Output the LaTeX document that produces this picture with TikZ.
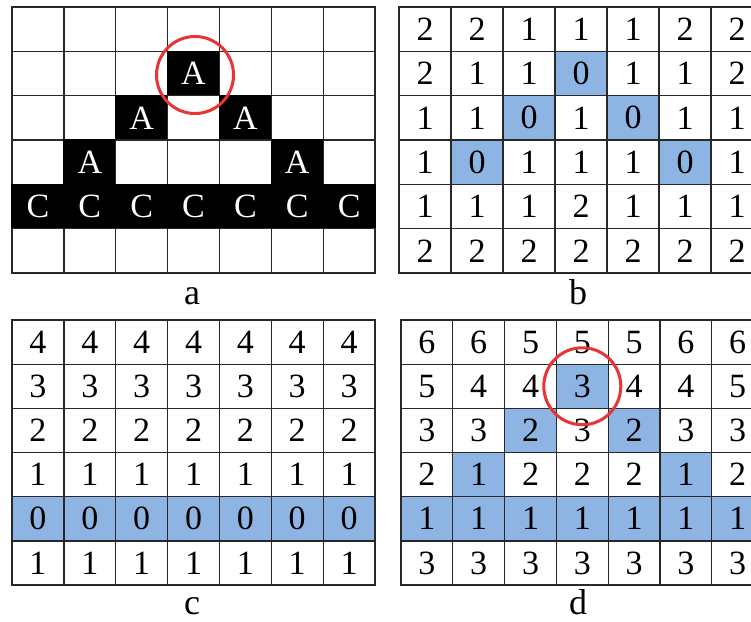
\documentclass[tikz,border=0pt]{standalone}
\usepackage{fontspec}
\setmainfont{Liberation Serif}
\definecolor{cw}{RGB}{255,255,255}
\definecolor{cb}{RGB}{141,180,226}
\definecolor{ck}{RGB}{0,0,0}
\definecolor{tw}{RGB}{0,0,0}
\definecolor{tb}{RGB}{0,0,0}
\definecolor{tk}{RGB}{255,255,255}
\definecolor{dw}{RGB}{40,40,40}
\definecolor{db}{RGB}{40,40,40}
\definecolor{dk}{RGB}{0,0,0}
\definecolor{ringred}{RGB}{232,52,52}
\newcommand\mygrid[6]{%
  \foreach \row [count=\r] in {#6} {
    \foreach \v/\f [count=\c] in \row {
      \node[cell, fill=c\f, text=t\f, draw=d\f, minimum width=#4pt, minimum height=#5pt]
        (#1-\r-\c) at ({#2+(\c-0.5)*#4},{#3+(\r-0.5)*#5}) {\v};
    }
  }
}
\begin{document}
\begin{tikzpicture}[x=1pt,y=-1pt,
  cell/.style={rectangle, line width=1.3pt, inner sep=0pt, font=\fontsize{34}{40}\selectfont},
  lab/.style={font=\fontsize{36}{42}\selectfont, inner sep=0pt, anchor=base},
  ring/.style={circle, draw=ringred, line width=3pt, minimum size=77pt, inner sep=0pt}]
\useasboundingbox (0,0) rectangle (751,621);
\clip (0,0) rectangle (751,621);
\fill[white] (0,0) rectangle (751,621);
% grid a
\mygrid{a}{12}{7}{51.86}{44.33}{
  {{}/w,{}/w,{}/w,{}/w,{}/w,{}/w,{}/w},
  {{}/w,{}/w,{}/w,A/k,{}/w,{}/w,{}/w},
  {{}/w,{}/w,A/k,{}/w,A/k,{}/w,{}/w},
  {{}/w,A/k,{}/w,{}/w,{}/w,A/k,{}/w},
  {C/k,C/k,C/k,C/k,C/k,C/k,C/k},
  {{}/w,{}/w,{}/w,{}/w,{}/w,{}/w,{}/w}}
% grid b
\mygrid{b}{399}{7}{52}{44.33}{
  {2/w,2/w,1/w,1/w,1/w,2/w,2/w},
  {2/w,1/w,1/w,0/b,1/w,1/w,2/w},
  {1/w,1/w,0/b,1/w,0/b,1/w,1/w},
  {1/w,0/b,1/w,1/w,1/w,0/b,1/w},
  {1/w,1/w,1/w,2/w,1/w,1/w,1/w},
  {2/w,2/w,2/w,2/w,2/w,2/w,2/w}}
% grid c
\mygrid{c}{12}{320}{51.86}{44.17}{
  {4/w,4/w,4/w,4/w,4/w,4/w,4/w},
  {3/w,3/w,3/w,3/w,3/w,3/w,3/w},
  {2/w,2/w,2/w,2/w,2/w,2/w,2/w},
  {1/w,1/w,1/w,1/w,1/w,1/w,1/w},
  {0/b,0/b,0/b,0/b,0/b,0/b,0/b},
  {1/w,1/w,1/w,1/w,1/w,1/w,1/w}}
% grid d
\mygrid{d}{401}{320}{51.8}{44.17}{
  {6/w,6/w,5/w,5/w,5/w,6/w,6/w},
  {5/w,4/w,4/w,3/b,4/w,4/w,5/w},
  {3/w,3/w,2/b,3/w,2/b,3/w,3/w},
  {2/w,1/b,2/w,2/w,2/w,1/b,2/w},
  {1/b,1/b,1/b,1/b,1/b,1/b,1/b},
  {3/w,3/w,3/w,3/w,3/w,3/w,3/w}}
% rings
\node[ring] (ringa) at ([shift={(1.5pt,-1.5pt)}]a-2-4.center) {};
\node[ring] (ringd) at (d-2-4.center) {};
% labels
\node[lab] (la) at (192,304) {a};
\node[lab] (lb) at (578,304) {b};
\node[lab] (lc) at (192,614) {c};
\node[lab] (ld) at (578,614) {d};
\end{tikzpicture}
\end{document}
